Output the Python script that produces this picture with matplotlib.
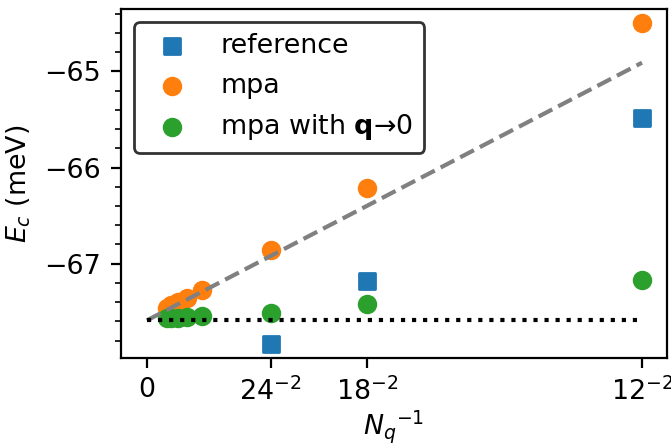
import numpy as np
import matplotlib
matplotlib.use("Agg")
import matplotlib.pyplot as plt
from matplotlib.ticker import MultipleLocator

# k-grid sizes and correlation energies (meV)
nq_ref = [24, 18, 12]
ec_ref = [-67.83, -67.18, -65.48]

nq_mpa = [60, 54, 48, 42, 36, 24, 18, 12]
ec_mpa = [-67.46, -67.43, -67.40, -67.36, -67.27, -66.86, -66.21, -64.50]

nq_q0 = [60, 54, 48, 42, 36, 24, 18, 12]
ec_q0 = [-67.56, -67.56, -67.56, -67.55, -67.54, -67.51, -67.42, -67.17]

# extrapolation lines
fit_x = [0.0, 12.0**-2]
fit_y = [-67.59, -64.91]
lim_y = [-67.59, -67.59]

xticks = [0.0, 24.0**-2, 18.0**-2, 12.0**-2]
xticklabels = ["0", "$24^{-2}$", "$18^{-2}$", "$12^{-2}$"]

plt.rcParams['font.size'] = 9.7

def inv2(n):
    return 1.0 / np.array(n, dtype=float)**2

fig, ax = plt.subplots(figsize=(3.355, 2.215), dpi=200)
fig.subplots_adjust(left=0.180, right=0.994, top=0.98, bottom=0.192)

ax.scatter(inv2(nq_ref), ec_ref, marker="s", color="tab:blue", label="reference")
ax.scatter(inv2(nq_mpa), ec_mpa, color="tab:orange", label="mpa")
ax.scatter(inv2(nq_q0), ec_q0, color="tab:green", label=r"mpa with $\mathbf{q}$→0")

ax.plot(fit_x, fit_y, "--", color="gray")
ax.plot(fit_x, lim_y, "k:")

ax.set_xticks(xticks)
ax.set_xticklabels(xticklabels)
ax.yaxis.set_minor_locator(MultipleLocator(0.2))
ax.set_xlim(-0.000365, 0.007295)
ax.set_ylim(-67.98, -64.35)

ax.set_xlabel("$N_q{}^{-1}$", labelpad=1)
ax.set_ylabel("$E_c$ (meV)")
ax.legend(loc="upper left", edgecolor="k")

fig.savefig("out.png", dpi=200)
